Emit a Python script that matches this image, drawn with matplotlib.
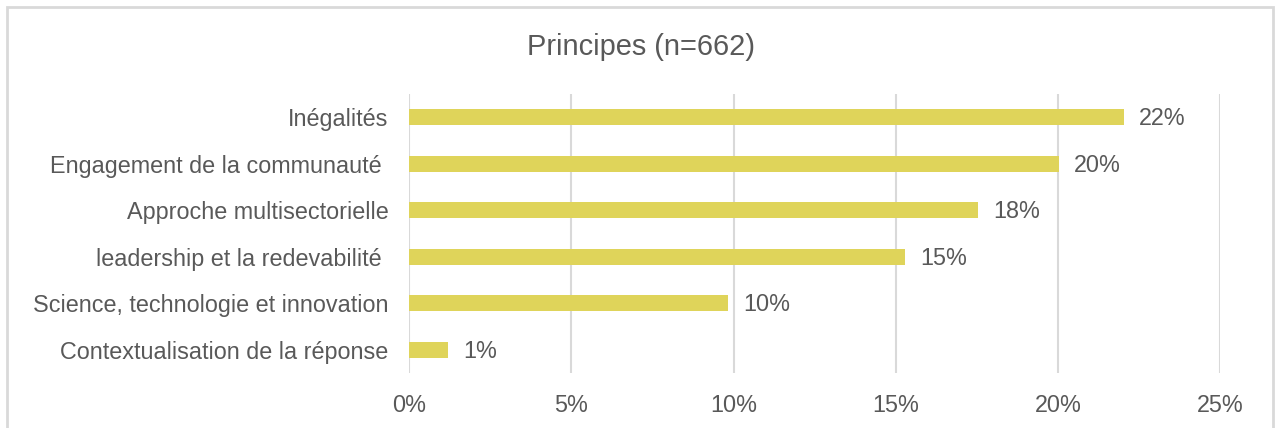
import matplotlib
matplotlib.use("Agg")
import matplotlib.pyplot as plt
from matplotlib.patches import Rectangle

# Data (top to bottom as displayed)
categories = [
    "Inégalités",
    "Engagement de la communauté ",
    "Approche multisectorielle",
    "leadership et la redevabilité ",
    "Science, technologie et innovation",
    "Contextualisation de la réponse",
]
values = [22.03, 20.02, 17.54, 15.28, 9.83, 1.20]
xticks = [0, 5, 10, 15, 20, 25]
xtick_labels = ["0%", "5%", "10%", "15%", "20%", "25%"]
title = "Principes (n=662)"

BAR_COLOR = "#DFD45A"
TEXT_COLOR = "#595959"
GRID_COLOR = "#D9D9D9"
FS = 16.8

plt.rcParams["font.family"] = ["Liberation Sans", "DejaVu Sans"]

W, H = 1277, 428
fig = plt.figure(figsize=(W / 100, H / 100), dpi=100)
fig.patch.set_facecolor("white")

ax = fig.add_axes([409.3 / W, 1 - 373 / H, (1220 - 409.3) / W, (373 - 94) / H])

ypos = list(range(len(categories)))
ax.barh(ypos, values, height=0.35, color=BAR_COLOR, zorder=3)
ax.set_ylim(len(categories) - 0.5, -0.5)
ax.set_xlim(0, 25)

ax.set_yticks(ypos)
ax.set_yticklabels(categories, fontsize=FS, color=TEXT_COLOR)
ax.set_xticks(xticks)
ax.set_xticklabels(xtick_labels, fontsize=FS, color=TEXT_COLOR)
ax.tick_params(axis="y", length=0, pad=15)
ax.tick_params(axis="x", length=0, pad=15)

for s in ax.spines.values():
    s.set_visible(False)
ax.grid(axis="x", color=GRID_COLOR, linewidth=1.5, zorder=0)
ax.set_axisbelow(True)

for y, v in zip(ypos, values):
    ax.annotate(f"{round(v):.0f}%", xy=(v, y), xytext=(15.5, -1.5),
                textcoords="offset pixels", va="center", ha="left",
                fontsize=FS, color=TEXT_COLOR)

fig.text(641 / W, 1 - 47 / H, title, ha="center", va="center",
         fontsize=20.9, color=TEXT_COLOR)

# Outer chart border (bottom edge falls outside the image)
fig.patches.append(Rectangle((7 / W, -0.05), (1273 - 7) / W, 1.05 - 7 / H,
                             transform=fig.transFigure, fill=False,
                             edgecolor=GRID_COLOR, linewidth=2))

fig.savefig("out.png", dpi=100, facecolor="white")
